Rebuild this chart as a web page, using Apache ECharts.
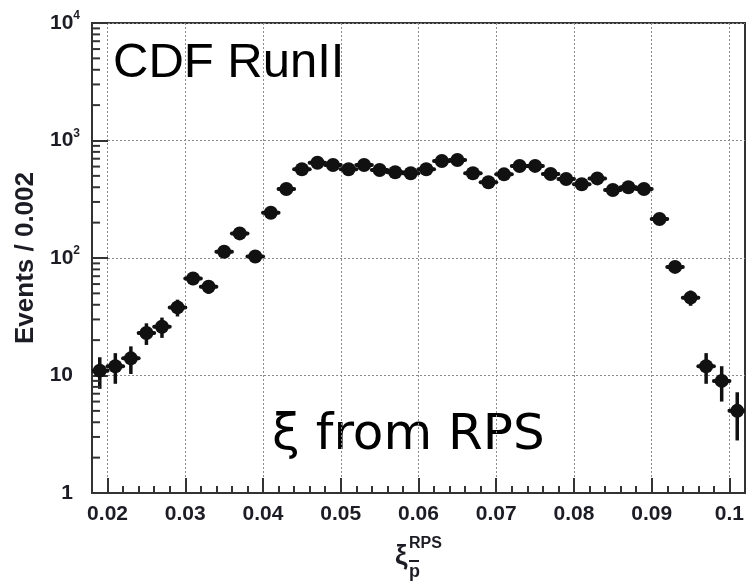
<!DOCTYPE html>
<html>
<head>
<meta charset="utf-8">
<script src="https://cdn.jsdelivr.net/npm/echarts@6/dist/echarts.min.js"></script>
<style>html,body{margin:0;padding:0;background:#fff}#c{width:746px;height:583px}</style>
</head>
<body>
<div id="c"></div>
<script>
// bin centres (xi), bin width 0.002
const xiCentres = [0.019,0.021,0.023,0.025,0.027,0.029,0.031,0.033,0.035,0.037,0.039,
  0.041,0.043,0.045,0.047,0.049,0.051,0.053,0.055,0.057,0.059,
  0.061,0.063,0.065,0.067,0.069,0.071,0.073,0.075,0.077,0.079,
  0.081,0.083,0.085,0.087,0.089,0.091,0.093,0.095,0.097,0.099,0.101];
const events = [11,12,14,23,26,38,67,57,113,162,103,
  243,387,569,647,618,569,618,561,536,526,
  569,670,683,526,441,515,607,608,519,470,
  424,476,379,400,387,215,84,46,12,9,5];
const eventErrors = [3.3,3.5,3.7,4.8,5.1,6.2,8.2,7.5,10.6,12.7,10.1,
  15.6,19.7,23.9,25.4,24.9,23.9,24.9,23.7,23.2,22.9,
  23.9,25.9,26.1,22.9,21,22.7,24.6,24.7,22.8,21.7,
  20.6,21.8,19.5,20,19.7,14.7,9.2,6.8,3.5,3,2.2];
const halfBin = 0.001;

const xMin = 0.018, xMax = 0.102;
const xTickValues = [0.02,0.03,0.04,0.05,0.06,0.07,0.08,0.09,0.1];
const xTickLabels = ['0.02','0.03','0.04','0.05','0.06','0.07','0.08','0.09','0.1'];
const xMinorTicks = [0.02,0.022,0.024,0.026,0.028,0.03,0.032,0.034,0.036,0.038,0.04,0.042,0.044,0.046,0.048,
  0.05,0.052,0.054,0.056,0.058,0.06,0.062,0.064,0.066,0.068,0.07,0.072,0.074,0.076,0.078,
  0.08,0.082,0.084,0.086,0.088,0.09,0.092,0.094,0.096,0.098,0.1];

const yTickValues = [1,10,100,1000,10000];
const yTickBase = ['1','10','10','10','10'];
const yTickExp = ['','','2','3','4'];
const yMinorTicks = [2,3,4,5,6,7,8,9,20,30,40,50,60,70,80,90,200,300,400,500,600,700,800,900,
  2000,3000,4000,5000,6000,7000,8000,9000];

const pointData = xiCentres.map((x,i)=>[x, events[i], eventErrors[i]]);

const chart = echarts.init(document.getElementById('c'), null, {renderer:'canvas'});
const gridLeft = 92, gridTop = 23, gridRight = 1, gridBottom = 90;
const ink = '#111';
const frame = '#333';
const dotted = {color:'#8a8a8a', width:1, type:[2,2]};

chart.setOption({
  animation:false,
  backgroundColor:'#fff',
  grid:{left:gridLeft, top:gridTop, right:gridRight, bottom:gridBottom, containLabel:false,
    outerBoundsMode:'none', show:true, borderColor:frame, borderWidth:2, backgroundColor:'transparent'},
  xAxis:[{
    type:'value', min:xMin, max:xMax, position:'bottom',
    axisLine:{show:true, onZero:false, lineStyle:{color:frame, width:2}},
    axisTick:{show:true, inside:true, length:15, customValues:xTickValues, lineStyle:{color:frame, width:2}},
    axisLabel:{show:true, customValues:xTickValues, margin:11,
      formatter:(v)=>{const i = xTickValues.findIndex(t=>Math.abs(t-v)<1e-9); return i>=0?xTickLabels[i]:'';},
      fontFamily:'Liberation Sans, Arial, sans-serif', fontWeight:'bold', fontSize:21, color:'#1c1c24'},
    splitLine:{show:true, lineStyle:dotted}
  },{
    type:'value', min:xMin, max:xMax, position:'bottom',
    axisLine:{show:false, onZero:false},
    axisTick:{show:true, inside:true, length:7, customValues:xMinorTicks, lineStyle:{color:frame, width:2}},
    axisLabel:{show:false},
    splitLine:{show:false}
  }],
  yAxis:{
    type:'log', logBase:10, min:1, max:10000,
    name:'Events / 0.002', nameLocation:'middle', nameGap:52,
    nameTextStyle:{fontFamily:'Liberation Sans, Arial, sans-serif', fontWeight:'bold', fontSize:26, color:'#1c1c24'},
    axisLine:{show:true, onZero:false, lineStyle:{color:frame, width:2}},
    axisTick:{show:true, inside:true, length:16, lineStyle:{color:frame, width:2}},
    axisLabel:{show:true, margin:12,
      formatter:(v)=>{const i = yTickValues.findIndex(t=>Math.abs(t-v)<1e-6*t); if(i<0) return '';
        return yTickExp[i] ? '{b|'+yTickBase[i]+'}{s|'+yTickExp[i]+'}' : '{b|'+yTickBase[i]+'}{p|}';},
      rich:{
        b:{fontFamily:'Liberation Sans, Arial, sans-serif', fontWeight:'bold', fontSize:21, lineHeight:26, color:'#1c1c24'},
        s:{fontFamily:'Liberation Sans, Arial, sans-serif', fontWeight:'bold', fontSize:12, lineHeight:12, verticalAlign:'top', color:'#1c1c24'},
        p:{width:7}
      }},
    splitLine:{show:true, lineStyle:dotted}
  },
  series:[
    {
      type:'custom', name:'yMinorTicks', coordinateSystem:'cartesian2d', silent:true, clip:false, z:5,
      data:yMinorTicks.map(v=>[xMin, v]),
      renderItem:(params, api)=>{
        const p = api.coord([api.value(0), api.value(1)]);
        return {type:'line', shape:{x1:p[0], y1:p[1], x2:p[0]+8, y2:p[1]}, style:{stroke:frame, lineWidth:2}};
      }
    },
    {
      type:'custom', name:'errors', coordinateSystem:'cartesian2d', silent:true, clip:true,
      data:pointData,
      renderItem:(params, api)=>{
        const x = api.value(0), y = api.value(1), e = api.value(2);
        const top = api.coord([x, y+e]);
        const bot = api.coord([x, Math.max(y-e, 0.01)]);
        const l = api.coord([x-halfBin, y]);
        const r = api.coord([x+halfBin, y]);
        return {type:'group', children:[
          {type:'line', shape:{x1:top[0], y1:top[1], x2:bot[0], y2:bot[1]}, style:{stroke:ink, lineWidth:3.5}},
          {type:'line', shape:{x1:l[0], y1:l[1], x2:r[0], y2:r[1]}, style:{stroke:ink, lineWidth:4, lineCap:'round'}}
        ]};
      }
    },
    {
      type:'scatter', name:'events', symbol:'circle', symbolSize:14,
      data:pointData.map(d=>[d[0], d[1]]),
      itemStyle:{color:ink, opacity:1}, silent:true
    }
  ],
  graphic:[
    {type:'text', left:113, top:39, style:{text:'CDF RunII', fontFamily:'Liberation Sans, Arial, sans-serif', fontSize:49, fill:'#000'}},
    {type:'text', left:272, top:411, style:{text:'ξ from RPS', fontFamily:'DejaVu Sans, sans-serif', fontSize:50, fill:'#000'}},
    {type:'text', left:395, top:542, style:{text:'ξ', fontFamily:'Liberation Sans, Arial, sans-serif', fontWeight:'bold', fontSize:28, fill:'#1c1c24'}},
    {type:'text', left:409, top:536, style:{text:'RPS', fontFamily:'Liberation Sans, Arial, sans-serif', fontWeight:'bold', fontSize:16, fill:'#1c1c24'}},
    {type:'text', left:409, top:563, style:{text:'p', fontFamily:'Liberation Sans, Arial, sans-serif', fontWeight:'bold', fontSize:18, fill:'#1c1c24'}},
    {type:'line', shape:{x1:409, y1:561, x2:419, y2:561}, style:{stroke:'#1c1c24', lineWidth:2}}
  ]
});
</script>
</body>
</html>
